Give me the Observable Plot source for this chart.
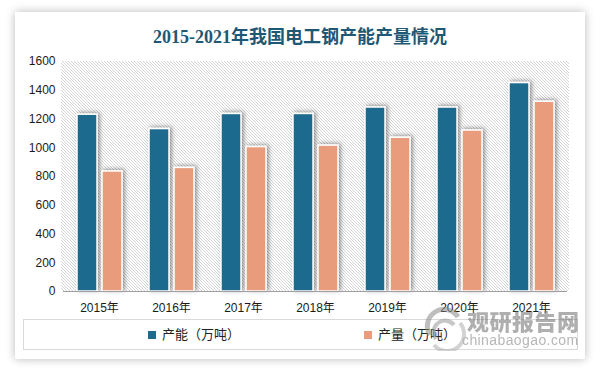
<!DOCTYPE html>
<html>
<head>
<meta charset="utf-8">
<script src="https://cdn.jsdelivr.net/npm/d3@7"></script>
<script src="https://cdn.jsdelivr.net/npm/@observablehq/plot@0.6"></script>
<style>
  html, body { margin: 0; padding: 0; background: #ffffff; }
  body { width: 600px; height: 371px; position: relative; overflow: hidden;
         font-family: "Liberation Sans", "Noto Sans CJK SC", sans-serif; }
  #card { position: absolute; left: 15px; top: 12px; width: 570px; height: 347px;
          background: #fff; box-shadow: 0 0 9px rgba(0,0,0,0.28); }
  #title { position: absolute; left: 0; top: 25px; width: 600px; text-align: center;
           font-family: "Liberation Serif", "Noto Sans CJK SC", serif; font-weight: bold;
           font-size: 18px; line-height: 24px; color: #1e5875; }
  #chart { position: absolute; left: 0; top: 50px; }
  #legend { position: absolute; left: 23px; top: 319px; width: 555px; height: 31px;
            border: 1px solid #d9d9d9; box-sizing: border-box; }
  .item { position: absolute; top: 0; height: 31px; line-height: 29px; font-size: 13px; color: #222; }
  .sw { display: inline-block; width: 8px; height: 8px; margin-right: 6px; vertical-align: -0px; }
  #wm { position: absolute; left: 420px; top: 301px; width: 170px; height: 50px; opacity: 0.55; pointer-events: none; }
  #wm1 { position: absolute; left: 47px; top: 6px; font-family: "Noto Sans CJK SC", sans-serif; font-weight: 900;
         font-size: 22px; line-height: 26px; color: #6f6f6f; letter-spacing: 0.5px; }
  #wm2 { position: absolute; left: 42px; top: 31px; font-family: "Liberation Sans", sans-serif;
         font-size: 14px; line-height: 16px; color: #7a7a7a; letter-spacing: 0.4px; }
</style>
</head>
<body>
<div id="card"></div>
<div id="title">2015-2021年我国电工钢产能产量情况</div>
<div id="chart"></div>
<div id="legend"></div>
<div id="wm">
  <svg width="46" height="46" style="position:absolute;left:2px;top:4px" viewBox="0 0 46 46">
    <path d="M8 30 A16 16 0 0 1 36 12" fill="none" stroke="#8a8a8a" stroke-width="5"/>
    <path d="M14 34 A11 11 0 0 1 32 20" fill="none" stroke="#9a9a9a" stroke-width="4"/>
    <path d="M38 18 A16 16 0 0 1 12 40" fill="none" stroke="#b0b0b0" stroke-width="4"/>
  </svg>
  <div id="wm1">观研报告网</div>
  <div id="wm2">chinabaogao.com</div>
</div>
<script>
// ---- data ----
const years = ["2015年", "2016年", "2017年", "2018年", "2019年", "2020年", "2021年"];
const seriesNames = ["产能（万吨）", "产量（万吨）"];
const capacity = [1230, 1130, 1235, 1235, 1280, 1280, 1450];
const output = [835, 860, 1005, 1015, 1070, 1120, 1320];
const yTicks = [0, 200, 400, 600, 800, 1000, 1200, 1400, 1600];
const colors = ["#1c6a8d", "#e89c7c"];

const data = [];
years.forEach((y, i) => {
  data.push({year: y, series: seriesNames[0], value: capacity[i]});
  data.push({year: y, series: seriesNames[1], value: output[i]});
});

const chart = Plot.plot({
  width: 600,
  height: 270,
  marginLeft: 61,
  marginRight: 31,
  marginTop: 11,
  marginBottom: 29,
  style: {fontFamily: "'Liberation Sans', 'Noto Sans CJK SC', sans-serif", fontSize: "12px", color: "#1a1a1a", background: "transparent"},
  fx: {domain: years, padding: 0, label: null, tickSize: 0, tickPadding: 12},
  x: {domain: seriesNames, axis: null, paddingInner: 0.21, paddingOuter: 0.5},
  y: {domain: [0, 1600], ticks: yTicks, tickFormat: d => String(d), tickSize: 0, tickPadding: 8, label: null},
  color: {domain: seriesNames, range: colors},
  marks: [
    Plot.barY(data, {fx: "year", x: "series", y: "value", fill: "series", stroke: "white", strokeWidth: 1.5}),
    Plot.ruleY([0], {stroke: "#a0a0a0", strokeWidth: 1})
  ]
});
document.getElementById("chart").appendChild(chart);

// defs: hatch pattern and shadow filter
const svg = d3.select(chart);
const defs = svg.insert("defs", ":first-child");
const pat = defs.append("pattern").attr("id", "hatch").attr("patternUnits", "userSpaceOnUse")
  .attr("width", 3).attr("height", 3);
pat.append("rect").attr("width", 3).attr("height", 3).attr("fill", "#ffffff");
pat.append("path").attr("d", "M-1,-1 L4,4 M-1,2 L1,4 M2,-1 L4,1").attr("stroke", "#cfcfcf").attr("stroke-width", 0.9);
const f = defs.append("filter").attr("id", "shadow").attr("x", "-40%").attr("y", "-20%").attr("width", "180%").attr("height", "140%");
f.append("feDropShadow").attr("dx", 2).attr("dy", -1).attr("stdDeviation", 2.2).attr("flood-color", "#000").attr("flood-opacity", 0.4);

// background hatch spanning the plot area, from the library's scales
const fxR = chart.scale("fx").range;
const yR = chart.scale("y").range;
svg.insert("rect", "defs + *")
  .attr("x", Math.min(...fxR)).attr("y", Math.min(...yR))
  .attr("width", Math.abs(fxR[1] - fxR[0])).attr("height", Math.abs(yR[0] - yR[1]))
  .attr("fill", "url(#hatch)");
svg.selectAll("g[aria-label='bar'] rect").attr("filter", "url(#shadow)");

// legend
const leg = document.getElementById("legend");
const legX = [124, 340];
seriesNames.forEach((s, i) => {
  const it = document.createElement("div");
  it.className = "item";
  it.style.left = legX[i] + "px";
  it.innerHTML = `<span class="sw" style="background:${colors[i]}"></span>${s}`;
  leg.appendChild(it);
});
</script>
</body>
</html>
